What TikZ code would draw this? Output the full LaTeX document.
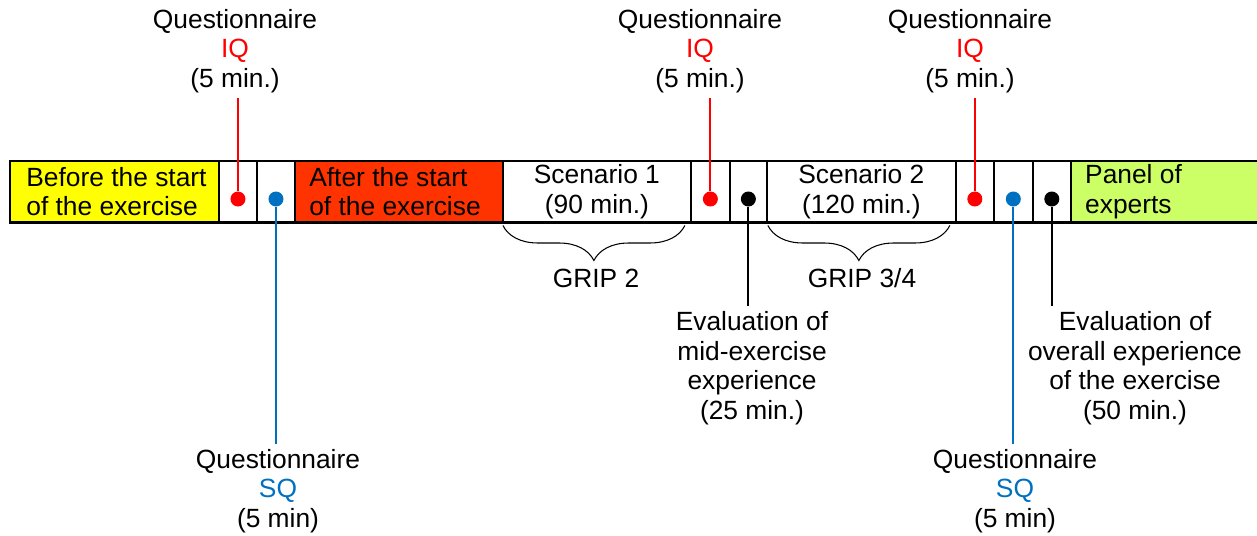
\documentclass[tikz,border=0pt]{standalone}
\usepackage{fontspec}
\setmainfont{Liberation Sans}
\usetikzlibrary{positioning,decorations.pathreplacing}
\definecolor{startyellow}{HTML}{FFFF00}
\definecolor{afterred}{HTML}{FF3300}
\definecolor{panelgreen}{HTML}{CCFF66}
\definecolor{iqred}{HTML}{FF0000}
\definecolor{sqblue}{HTML}{0070C0}

\begin{document}
\begin{tikzpicture}[x=0.02cm, y=-0.02cm, node distance=0pt,
    font=\fontsize{15}{16.8}\selectfont,
    cell/.style={draw, line width=1.2pt, minimum height=1.23cm, inner sep=0pt, outer sep=0pt, align=center},
    celltext/.style={anchor=west, align=left, inner sep=0pt},
    dot/.style={circle, fill, inner sep=0pt, minimum size=0.3cm, yshift=-0.145cm},
    lbl/.style={align=center, inner sep=3pt},
    mark line/.style={line width=1.1pt},
    grip/.style={decorate, decoration={brace, mirror, amplitude=0.7cm}, line width=0.6pt}]
  \useasboundingbox (0,0) rectangle (1257,535);

  % the time bar
  \node[cell, fill=startyellow, minimum width=4.18cm] (before) at (114.5,191.75) {};
  \node[cell, minimum width=0.76cm] (w1) [right=of before] {};
  \node[cell, minimum width=0.76cm] (w2) [right=of w1] {};
  \node[cell, fill=afterred, minimum width=4.16cm] (after) [right=of w2] {};
  \node[cell, minimum width=3.76cm] (sc1) [right=of after] {Scenario 1\\(90 min.)};
  \node[cell, minimum width=0.78cm] (w3) [right=of sc1] {};
  \node[cell, minimum width=0.74cm] (w4) [right=of w3] {};
  \node[cell, minimum width=3.78cm] (sc2) [right=of w4] {Scenario 2\\(120 min.)};
  \node[cell, minimum width=0.76cm] (w5) [right=of sc2] {};
  \node[cell, minimum width=0.78cm] (w6) [right=of w5] {};
  \node[cell, minimum width=0.76cm] (w7) [right=of w6] {};
  \node[cell, fill=panelgreen, minimum width=4cm] (panel) [right=of w7] {};
  \node[celltext] (beforetext) at ([xshift=0.32cm]before.west) {Before the start\\of the exercise};
  \node[celltext] (aftertext) at ([xshift=0.28cm]after.west) {After the start\\of the exercise};
  \node[celltext] (paneltext) at ([xshift=0.28cm]panel.west) {Panel of\\experts};

  % dots
  \node[dot, iqred] (iqdot1) at (w1) {};
  \node[dot, sqblue] (sqdot1) at (w2) {};
  \node[dot, iqred] (iqdot2) at (w3) {};
  \node[dot, black] (evdot1) at (w4) {};
  \node[dot, iqred] (iqdot3) at (w5) {};
  \node[dot, sqblue] (sqdot2) at (w6) {};
  \node[dot, black] (evdot2) at (w7) {};

  % labels
  \node[lbl] (iqlbl1) at (235,51) {Questionnaire\\\textcolor{iqred}{IQ}\\(5 min.)};
  \node[lbl] (iqlbl2) at (700,51) {Questionnaire\\\textcolor{iqred}{IQ}\\(5 min.)};
  \node[lbl] (iqlbl3) at (970,51) {Questionnaire\\\textcolor{iqred}{IQ}\\(5 min.)};
  \node[lbl] (sqlbl1) at (278,491) {Questionnaire\\\textcolor{sqblue}{SQ}\\(5 min)};
  \node[lbl] (sqlbl2) at (1015,491) {Questionnaire\\\textcolor{sqblue}{SQ}\\(5 min)};
  \node[lbl] (evlbl1) at (752,368) {Evaluation of\\mid-exercise\\experience\\(25 min.)};
  \node[lbl] (evlbl2) at (1135,368) {Evaluation of\\overall experience\\of the exercise\\(50 min.)};

  % lines
  \draw[mark line, iqred] (iqdot1) -- (iqdot1 |- iqlbl1.south);
  \draw[mark line, iqred] (iqdot2) -- (iqdot2 |- iqlbl2.south);
  \draw[mark line, iqred] (iqdot3) -- (iqdot3 |- iqlbl3.south);
  \draw[mark line, sqblue] (sqdot1) -- (sqdot1 |- sqlbl1.north);
  \draw[mark line, sqblue] (sqdot2) -- (sqdot2 |- sqlbl2.north);
  \draw[mark line] (evdot1) -- (evdot1 |- evlbl1.north);
  \draw[mark line] (evdot2) -- (evdot2 |- evlbl2.north);

  % braces
  \draw[grip] ([yshift=-0.06cm]sc1.south west) -- ([xshift=-0.12cm, yshift=-0.06cm]sc1.south east);
  \draw[grip] ([xshift=0.02cm, yshift=-0.06cm]sc2.south west) -- ([xshift=-0.12cm, yshift=-0.06cm]sc2.south east);
  \node (grip2) at (596,278) {GRIP 2};
  \node (grip34) at (862,278) {GRIP 3/4};
\end{tikzpicture}
\end{document}
